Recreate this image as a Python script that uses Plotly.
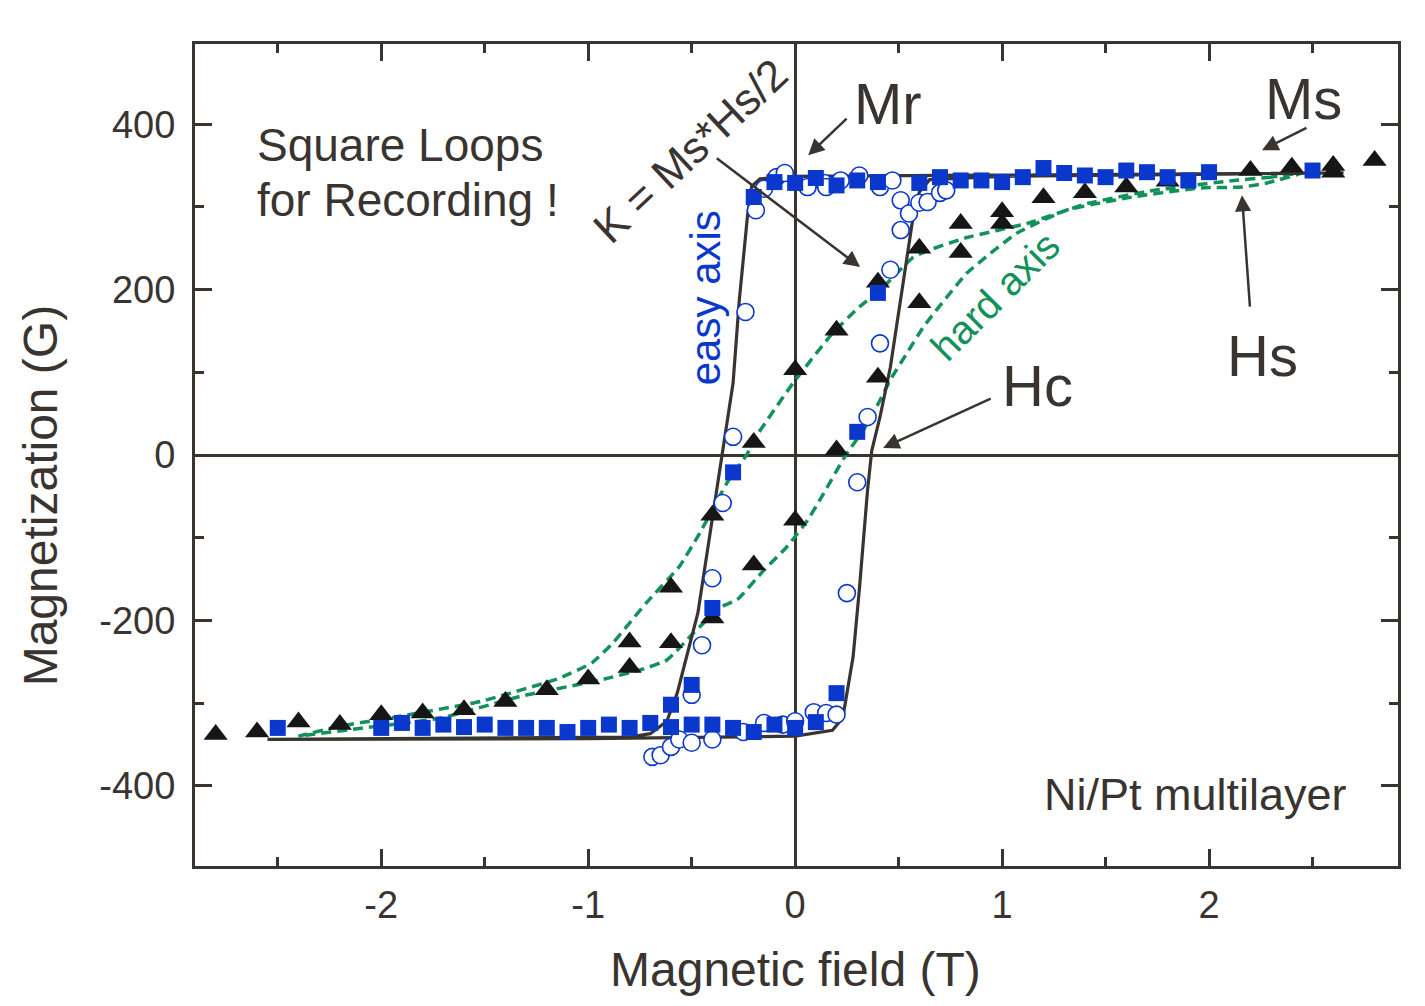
import plotly.graph_objects as go

# ---------------- data ----------------
# hard-axis measurement (black triangles)
tri_x = [-2.8, -2.6, -2.4, -2.2, -2.0, -1.8, -1.6, -1.4, -1.2, -1.0, -0.8, -0.8, -0.6, -0.6,
         -0.4, -0.4, -0.2, -0.2, 0.0, 0.0, 0.2, 0.2, 0.4, 0.4, 0.6, 0.6, 0.8, 0.8, 1.0, 1.0,
         1.2, 1.4, 1.6, 1.8, 2.2, 2.4, 2.6, 2.6, 2.8]
tri_y = [-338, -335, -323, -326, -314, -312, -308, -298, -284, -271, -257, -226, -227, -160,
         -197, -73, -133, 15, -79, 103, 6, 151, 94, 209, 184, 250, 245, 280, 280, 294,
         311, 317, 324, 331, 344, 348, 342, 350, 356]

# easy-axis measurement (blue filled squares)
sq_x = [-2.5, -2.0, -1.9, -1.8, -1.7, -1.6, -1.5, -1.4, -1.3, -1.2, -1.1, -1.0, -0.9, -0.8,
        -0.7, -0.6, -0.5, -0.4, -0.3, -0.2, -0.1, 0.0, 0.1, 0.2,
        -0.6, -0.5, -0.4, -0.3, -0.2, 0.3, 0.4,
        -0.1, 0.0, 0.1, 0.2, 0.3, 0.4, 0.6, 0.7, 0.8, 0.9, 1.0, 1.1, 1.2, 1.3, 1.4, 1.5,
        1.6, 1.7, 1.8, 1.9, 2.0, 2.5]
sq_y = [-330, -330, -324, -330, -326, -329, -326, -330, -330, -330, -335, -330, -326, -330,
        -324, -329, -326, -326, -330, -335, -326, -330, -323, -288,
        -302, -278, -185, -21, 312, 28, 196,
        330, 329, 335, 326, 332, 330, 329, 336, 332, 332, 330, 336, 347, 341, 338, 336,
        344, 342, 336, 332, 342, 344]

# easy-axis measurement (blue open circles)
circ_x = [-0.19, -0.15, -0.09, -0.05, 0.06, 0.14, 0.15, 0.22, 0.31, 0.41, 0.47, 0.51, 0.55,
          0.60, 0.64, 0.70, 0.73, 0.51, 0.46, 0.41, 0.35, 0.30, 0.25, -0.24, -0.30, -0.35,
          -0.40, -0.45, -0.50, -0.69, -0.65, -0.60, -0.56, -0.50, -0.40, -0.25, -0.15,
          -0.06, 0.0, 0.09, 0.15, 0.20]
circ_y = [296, 322, 336, 341, 324, 329, 324, 332, 338, 324, 332, 308, 292,
          305, 306, 317, 320, 272, 224, 135, 46, -33, -167, 173, 22, -58,
          -149, -230, -290, -365, -363, -353, -344, -348, -344, -335, -324,
          -326, -322, -311, -312, -314]

# easy-axis square loop (solid black line): descending then ascending branch
easy_desc_x = [2.65, 1.5, 0.6, 0.0, -0.17, -0.21, -0.23, -0.27, -0.30, -0.35, -0.40, -0.47,
               -0.57, -0.62, -0.70, -0.80, -2.55]
easy_desc_y = [341, 339, 338, 337, 334, 325, 290, 187, 87, 5, -82, -191,
               -288, -322, -337, -341, -344]
easy_asc_x = [-2.55, -1.0, 0.0, 0.18, 0.23, 0.25, 0.28, 0.31, 0.35, 0.37, 0.41, 0.46, 0.51,
              0.57, 0.60, 0.65, 1.0, 2.65]
easy_asc_y = [-344, -343, -340, -333, -318, -288, -244, -163, -42, 5, 46, 106, 187,
              288, 318, 333, 337, 341]

# hard-axis loop (green dashed line)
hard_desc_x = [2.45, 2.3, 2.12, 1.73, 1.41, 1.12, 0.83, 0.65, 0.57, 0.41, 0.31, 0.18, -0.01,
               -0.20, -0.23, -0.33, -0.46, -0.56, -0.72, -0.88, -0.98, -1.14, -1.52, -1.91,
               -2.20, -2.40]
hard_desc_y = [341, 336, 332, 320, 304, 280, 263, 248, 239, 199, 179, 147, 87,
               18, 2, -34, -94, -135, -179, -227, -251, -270, -298, -316,
               -328, -340]
hard_asc_x = [-2.40, -2.15, -1.71, -1.33, -0.94, -0.75, -0.62, -0.49, -0.36, -0.28, -0.15,
              -0.04, 0.06, 0.12, 0.25, 0.33, 0.41, 0.46, 0.54, 0.62, 0.83, 1.07, 1.31, 1.63,
              1.96, 2.16, 2.28, 2.45]
hard_asc_y = [-340, -332, -318, -292, -272, -260, -248, -215, -184, -175, -139,
              -111, -79, -54, 2, 30, 66, 91, 123, 155, 220, 268, 296, 312,
              323, 324, 329, 341]

x_ticks = [-2, -1, 0, 1, 2]
x_minor = [-2.5, -1.5, -0.5, 0.5, 1.5, 2.5]
y_ticks = [-400, -200, 0, 200, 400]
y_minor = [-300, -100, 100, 300]

# ---------------- styles ----------------
DARK = "#3a3431"
BLUE = "#0b38cc"
GREEN = "#13915a"
FONT = "Liberation Sans, Arial, Helvetica, sans-serif"

fig = go.Figure()

fig.add_trace(go.Scatter(
    x=hard_desc_x + hard_asc_x, y=hard_desc_y + hard_asc_y, mode="lines",
    line=dict(color=GREEN, width=3.5, dash="10px,6px", shape="spline", smoothing=0.4),
    hoverinfo="skip", showlegend=False))

fig.add_trace(go.Scatter(
    x=easy_desc_x + easy_asc_x, y=easy_desc_y + easy_asc_y, mode="lines",
    line=dict(color=DARK, width=3.2), hoverinfo="skip", showlegend=False))

fig.add_trace(go.Scatter(
    x=circ_x, y=circ_y, mode="markers",
    marker=dict(symbol="circle", size=17, color="white", line=dict(color=BLUE, width=1.6)),
    showlegend=False))

fig.add_trace(go.Scatter(
    x=tri_x, y=tri_y, mode="markers",
    marker=dict(symbol="triangle-up", size=21, color="#161616", line=dict(width=0)),
    showlegend=False))

fig.add_trace(go.Scatter(
    x=sq_x, y=sq_y, mode="markers",
    marker=dict(symbol="square", size=16, color=BLUE, line=dict(width=0)),
    showlegend=False))

axis_common = dict(
    showline=True, linewidth=3, linecolor=DARK, mirror="ticks",
    ticks="inside", ticklen=17, tickwidth=2.5, tickcolor=DARK,
    showgrid=False, zeroline=True, zerolinecolor=DARK, zerolinewidth=2.5,
    tickfont=dict(family=FONT, size=38, color=DARK),
)

fig.update_xaxes(
    range=[-2.9, 2.913], tickmode="array", tickvals=x_ticks,
    ticktext=[str(v) for v in x_ticks], ticklabelstandoff=3,
    minor=dict(tickmode="array", tickvals=x_minor, ticks="inside", ticklen=9,
               tickwidth=2.5, tickcolor=DARK, showgrid=False),
    **axis_common)
fig.update_yaxes(
    range=[-497, 497], tickmode="array", tickvals=y_ticks,
    ticktext=[str(v) for v in y_ticks], ticklabelstandoff=9,
    minor=dict(tickmode="array", tickvals=y_minor, ticks="inside", ticklen=9,
               tickwidth=2.5, tickcolor=DARK, showgrid=False),
    **axis_common)

def txt(x, y, s, size, color=DARK, angle=0, xanchor="center", xref="x", yref="y"):
    fig.add_annotation(x=x, y=y, xref=xref, yref=yref, text=s, showarrow=False,
                       textangle=angle, xanchor=xanchor, yanchor="middle",
                       font=dict(family=FONT, size=size, color=color))

def arrow(tx, ty, hx, hy):
    fig.add_annotation(x=hx, y=hy, ax=tx, ay=ty, xref="x", yref="y", axref="x", ayref="y",
                       text="", showarrow=True, arrowhead=2, arrowsize=1.3,
                       arrowwidth=2.5, arrowcolor=DARK, standoff=0, startstandoff=0)

# axis titles
txt(0.499, -0.1265, "Magnetic field (T)", 48, xref="paper", yref="paper")
txt(-0.1288, 0.451, "Magnetization (G)", 48, angle=-90, xref="paper", yref="paper")

# labels
txt(-2.609, 374.6, "Square Loops", 46, xanchor="left")
txt(-2.609, 308.2, "for Recording !", 46, xanchor="left")
txt(-0.507, 368.6, "K = Ms*Hs/2", 44, angle=-43)
txt(-0.435, 189.7, "easy axis", 42, color=BLUE, angle=-90)
txt(0.966, 192.1, "hard axis", 40, color=GREEN, angle=-45)
txt(0.449, 425.4, "Mr", 58)
txt(2.454, 431.4, "Ms", 58)
txt(2.256, 120.8, "Hs", 58)
txt(1.169, 84.6, "Hc", 58)
txt(1.193, -410.9, "Ni/Pt multilayer", 45, xanchor="left")

# arrows
arrow(0.256, 408.5, 0.063, 362.5)     # Mr
arrow(2.478, 396.4, 2.256, 368.6)     # Ms
arrow(2.198, 177.6, 2.159, 314.2)     # Hs
arrow(0.952, 68.9, 0.425, 8.5)        # Hc
arrow(-0.386, 360.1, 0.314, 227.2)    # K

# the page body has an 8 px margin, so the figure is sized/margined to compensate
fig.update_layout(
    width=1417, height=998,
    margin=dict(l=187, r=27, t=36, b=140),
    paper_bgcolor="white", plot_bgcolor="white",
    showlegend=False,
    font=dict(family=FONT, color=DARK),
)

fig.write_html("out.html")
